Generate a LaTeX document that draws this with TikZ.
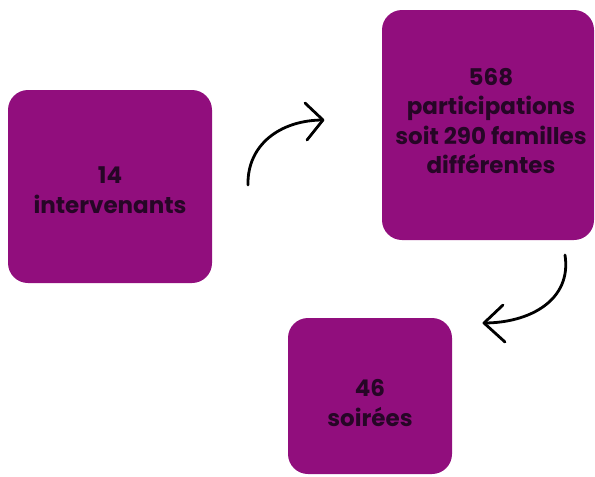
\documentclass[tikz,border=0pt]{standalone}
\usepackage{fontspec}
\setmainfont{Poppins}
\definecolor{boxpurple}{RGB}{145,14,125}
\definecolor{boxtext}{RGB}{38,6,38}
\begin{document}
\begin{tikzpicture}[x=1pt,y=-1pt,
  statbox/.style={fill=boxpurple,rounded corners=20pt,inner sep=0pt},
  stattext/.style={text=boxtext,font=\bfseries\fontsize{23}{29.5}\selectfont,align=center},
  hand/.style={draw=black,line width=2.8pt,line cap=round,line join=round}]
\useasboundingbox (0,0) rectangle (595,477);
\path[statbox] (8,90) rectangle (212,283);
\path[statbox] (382,10) rectangle (594,240);
\path[statbox] (288,318) rectangle (452,474);
\node[stattext] (a) at (110,190) {14\\intervenants};
\node[stattext] (b) at (491,121) {568\\participations\\soit 290 familles\\différentes};
\node[stattext] (c) at (370,403) {46\\soirées};
\coordinate (a1s) at (248,185);
\coordinate (a1e) at (323,120);
\coordinate (a1u) at (305,103);
\coordinate (a1d) at (307,140);
\coordinate (a2s) at (565,255);
\coordinate (a2e) at (484,323);
\coordinate (a2u) at (503,305);
\coordinate (a2d) at (505,342);
\draw[hand] (a1s) .. controls (247,145) and (280,120) .. (a1e);
\draw[hand] (a1u) -- (a1e) -- (a1d);
\draw[hand] (a2s) .. controls (572,300) and (530,323) .. (a2e);
\draw[hand] (a2u) -- (a2e) -- (a2d);
\end{tikzpicture}
\end{document}
